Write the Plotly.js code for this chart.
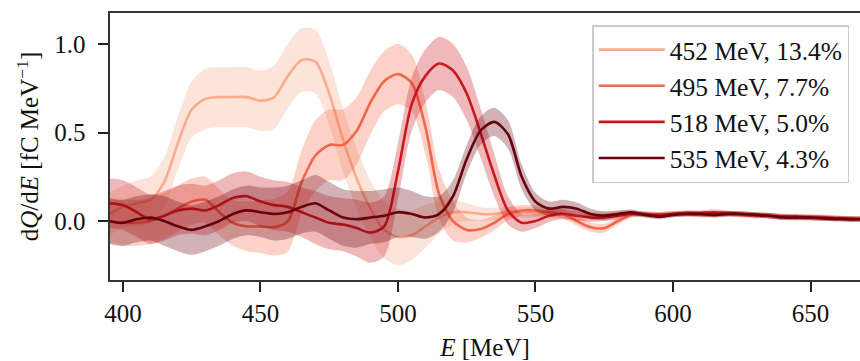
<!DOCTYPE html>
<html>
<head>
<meta charset="utf-8">
<script src="https://cdn.plot.ly/plotly-3.0.1.min.js"></script>
<style>
  html, body { margin: 0; padding: 0; background: #fff; }
  #chart { width: 860px; height: 361px; }
</style>
</head>
<body>
<div id="chart"></div>
<script>
// Energy grid [MeV]
const energy = [395,400,405,410,415,420,425,430,435,440,445,450,455,460,465,470,475,480,485,490,495,500,505,510,515,520,525,530,535,540,545,550,555,560,565,570,575,580,585,590,595,600,605,610,615,620,625,630,635,640,645,650,655,660,665,670];

const seriesNames = ["452 MeV, 13.4%", "495 MeV, 7.7%", "518 MeV, 5.0%", "535 MeV, 4.3%"];

// Mean spectra dQ/dE [fC/MeV]
const mean452 = [0.04,0.08,0.10,0.12,0.22,0.44,0.63,0.69,0.70,0.70,0.70,0.68,0.70,0.82,0.91,0.90,0.72,0.46,0.24,0.07,-0.05,-0.09,-0.08,-0.03,0.02,0.05,0.05,0.04,0.04,0.05,0.05,0.05,0.05,0.04,0.03,0.03,0.035,0.04,0.045,0.04,0.035,0.04,0.045,0.04,0.035,0.04,0.04,0.035,0.03,0.025,0.02,0.02,0.02,0.015,0.012,0.012];
const mean495 = [0.00,-0.01,-0.01,0.00,0.03,0.07,0.11,0.12,0.05,-0.01,-0.03,-0.03,-0.035,0.00,0.22,0.37,0.43,0.43,0.51,0.67,0.79,0.83,0.78,0.53,0.15,0.00,-0.05,-0.045,-0.01,0.04,0.06,0.06,0.05,0.04,0.00,-0.035,-0.04,0.00,0.035,0.04,0.035,0.04,0.04,0.035,0.035,0.04,0.035,0.03,0.03,0.025,0.02,0.02,0.015,0.015,0.012,0.012];
const mean518 = [0.10,0.09,0.05,0.01,0.03,0.06,0.07,0.06,0.09,0.13,0.14,0.11,0.09,0.08,0.05,0.02,-0.01,-0.02,-0.04,-0.065,-0.03,0.28,0.66,0.82,0.89,0.85,0.72,0.50,0.26,0.06,-0.01,0.00,0.03,0.04,0.03,0.02,0.02,0.03,0.04,0.035,0.035,0.04,0.045,0.045,0.05,0.045,0.04,0.035,0.03,0.025,0.025,0.02,0.02,0.015,0.012,0.012];
const mean535 = [0.00,-0.01,0.01,0.02,0.00,-0.03,-0.05,-0.03,0.00,0.04,0.06,0.05,0.04,0.05,0.08,0.10,0.06,0.02,0.01,0.02,0.03,0.05,0.04,0.02,0.04,0.14,0.35,0.51,0.56,0.49,0.25,0.11,0.07,0.08,0.07,0.04,0.03,0.04,0.05,0.035,0.025,0.035,0.04,0.04,0.035,0.04,0.04,0.035,0.03,0.02,0.02,0.02,0.015,0.012,0.01,0.01];

// Shot-to-shot spread (half-width of shaded band)
const spread452 = [0.12,0.12,0.13,0.13,0.14,0.15,0.16,0.17,0.17,0.17,0.17,0.17,0.18,0.18,0.18,0.18,0.18,0.18,0.17,0.16,0.16,0.16,0.14,0.12,0.09,0.07,0.05,0.04,0.035,0.03,0.03,0.03,0.03,0.025,0.025,0.02,0.02,0.02,0.015,0.015,0.015,0.015,0.015,0.015,0.015,0.015,0.015,0.015,0.015,0.015,0.015,0.015,0.015,0.015,0.015,0.015];
const spread495 = [0.12,0.13,0.13,0.13,0.13,0.13,0.13,0.13,0.13,0.13,0.14,0.15,0.16,0.17,0.18,0.20,0.20,0.20,0.19,0.18,0.17,0.17,0.16,0.15,0.14,0.11,0.07,0.05,0.04,0.035,0.03,0.03,0.03,0.025,0.025,0.025,0.025,0.02,0.015,0.015,0.015,0.015,0.015,0.015,0.015,0.015,0.015,0.015,0.015,0.015,0.015,0.015,0.015,0.015,0.015,0.015];
const spread518 = [0.14,0.14,0.14,0.14,0.14,0.14,0.14,0.14,0.14,0.14,0.14,0.14,0.14,0.14,0.14,0.15,0.15,0.15,0.16,0.17,0.17,0.16,0.15,0.15,0.15,0.15,0.15,0.14,0.12,0.08,0.05,0.04,0.035,0.03,0.03,0.025,0.02,0.02,0.015,0.015,0.015,0.015,0.015,0.015,0.015,0.015,0.015,0.015,0.015,0.015,0.015,0.015,0.015,0.015,0.015,0.015];
const spread535 = [0.13,0.13,0.13,0.13,0.14,0.14,0.14,0.14,0.14,0.14,0.14,0.14,0.15,0.15,0.15,0.16,0.16,0.16,0.16,0.15,0.15,0.14,0.13,0.12,0.10,0.09,0.08,0.08,0.08,0.08,0.07,0.05,0.04,0.04,0.035,0.03,0.025,0.02,0.015,0.015,0.015,0.015,0.015,0.015,0.015,0.015,0.015,0.015,0.015,0.015,0.015,0.015,0.015,0.015,0.015,0.015];

const xTicks = [400,450,500,550,600,650];
const yTicks = [0.0,0.5,1.0];
const yTickText = ["0.0","0.5","1.0"];

const lineColors = ["#f9ab8c", "#f26649", "#c9181f", "#67000d"];
const bandColors = ["rgba(249,171,140,0.32)", "rgba(242,102,73,0.30)", "rgba(201,24,31,0.30)", "rgba(103,0,13,0.30)"];

const means = [mean452, mean495, mean518, mean535];
const spreads = [spread452, spread495, spread518, spread535];

const traces = [];
means.forEach((m, i) => {
  const s = spreads[i];
  const lower = m.map((v, k) => v - s[k]);
  const upper = m.map((v, k) => v + s[k]);
  traces.push({x: energy, y: lower, mode: 'lines', line: {width: 0, shape: 'spline', smoothing: 0.8, color: lineColors[i]},
               showlegend: false, hoverinfo: 'skip', type: 'scatter'});
  traces.push({x: energy, y: upper, mode: 'lines', fill: 'tonexty', fillcolor: bandColors[i],
               line: {width: 0, shape: 'spline', smoothing: 0.8, color: lineColors[i]},
               showlegend: false, hoverinfo: 'skip', type: 'scatter'});
  traces.push({x: energy, y: m, mode: 'lines', name: seriesNames[i],
               line: {width: 2.6, shape: 'spline', smoothing: 0.8, color: lineColors[i]}, type: 'scatter'});
});

const fam = 'Liberation Serif, Times New Roman, serif';
const font = {family: fam, size: 25, color: '#111'};

const layout = {
  width: 860, height: 361,
  margin: {l: 110, r: 0, t: 13, b: 81},
  paper_bgcolor: '#fff', plot_bgcolor: '#fff',
  font: font,
  showlegend: true,
  legend: {
    x: 0.643, y: 0.955, xanchor: 'left', yanchor: 'top',
    traceorder: 'normal',
    bgcolor: 'rgba(255,255,255,0.85)', bordercolor: '#cccccc', borderwidth: 1.5,
    font: {family: fam, size: 25.5, color: '#111'},
    itemwidth: 66,
    tracegroupgap: 0
  },
  xaxis: {
    range: [395.3, 668.0],
    tickvals: xTicks,
    ticks: 'outside', ticklen: 10, tickwidth: 2, tickcolor: '#222',
    showline: true, linecolor: '#333', linewidth: 1.6, mirror: true,
    showgrid: false, zeroline: false,
    tickfont: {family: fam, size: 25, color: '#111'},
    title: {text: '<i>E</i> [MeV]', font: {family: fam, size: 25, color: '#111'}, standoff: 17}
  },
  yaxis: {
    range: [-0.333, 1.175],
    tickvals: yTicks, ticktext: yTickText,
    ticks: 'outside', ticklen: 10, tickwidth: 2, tickcolor: '#222',
    ticklabelstandoff: 8,
    showline: true, linecolor: '#333', linewidth: 1.6, mirror: false,
    showgrid: false, zeroline: false,
    tickfont: {family: fam, size: 25, color: '#111'},
    title: {text: 'd<i>Q</i>/d<i>E</i> [fC MeV<sup>\u22121</sup>]', font: {family: fam, size: 25, color: '#111'}, standoff: 8}
  }
};

Plotly.newPlot('chart', traces, layout, {staticPlot: true, displayModeBar: false});
</script>
</body>
</html>
